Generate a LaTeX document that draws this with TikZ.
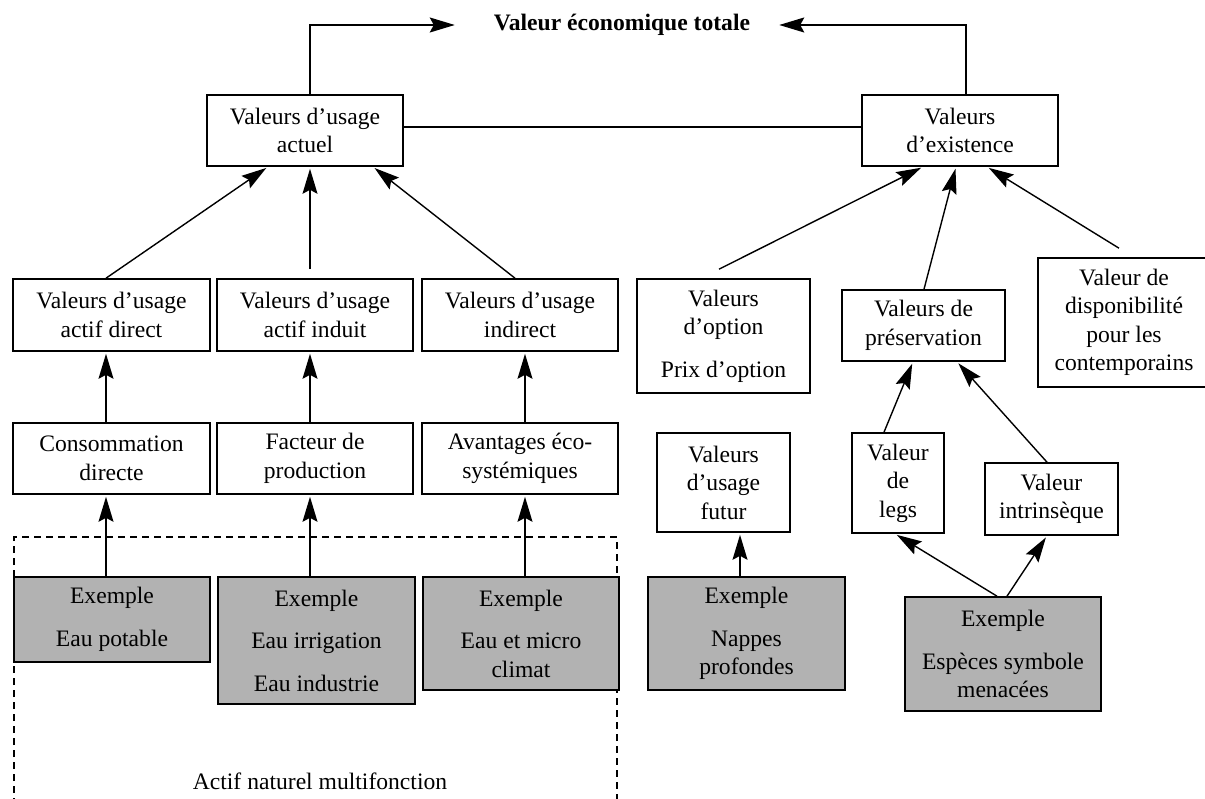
\documentclass[tikz,border=0pt]{standalone}
\usepackage{fontspec}
\setmainfont{Liberation Serif}
\usetikzlibrary{arrows.meta}
\definecolor{exgray}{RGB}{178,178,178}
\begin{document}
\begin{tikzpicture}[x=1pt,y=-1pt,
  txt/.style={font=\fontsize{23.6}{28.5}\selectfont, align=center, inner sep=0pt},
  box/.style={txt, draw, line width=1.6pt, fill=white},
  exbox/.style={box, fill=exgray},
  arr/.style={line width=1.4pt, -{Stealth[length=25pt,width=15pt,inset=4pt]}, shorten >=2pt},
  ln/.style={line width=1.4pt}]
\useasboundingbox (0,0) rectangle (1205,799);

% title
\node[txt, font=\fontsize{23.6}{28.5}\selectfont\bfseries] (title) at (622,25) {Valeur économique totale};

% top level
\node[box, minimum width=196pt, minimum height=71pt] (A) at (305,130.5) {Valeurs d’usage\\actuel};
\node[box, minimum width=196pt, minimum height=71pt] (E) at (960,130.5) {Valeurs\\d’existence};

% row 2
\node[box, minimum width=197pt, minimum height=72pt] (B1) at (111.5,315) {Valeurs d’usage\\actif direct};
\node[box, minimum width=196pt, minimum height=72pt] (B2) at (315,315) {Valeurs d’usage\\actif induit};
\node[box, minimum width=196pt, minimum height=72pt] (B3) at (520,315) {Valeurs d’usage\\indirect};

% row 3
\node[box, minimum width=197pt, minimum height=71pt] (C1) at (111.5,458.5) {Consommation\\directe};
\node[box, minimum width=196pt, minimum height=71pt] (C2) at (315,458.5) {Facteur de\\production};
\node[box, minimum width=196pt, minimum height=71pt] (C3) at (520,458.5) {Avantages éco-\\systémiques};

% dashed frame
\draw[line width=1.5pt, dash pattern=on 7pt off 5pt] (14,805) -- (14,537) -- (617,537) -- (617,805);
\node[txt] (actif) at (320,781) {Actif naturel multifonction};

% examples left
\node[exbox, minimum width=196pt, minimum height=85pt] (G1) at (112,619.5) {Exemple\\[14pt]Eau potable};
\node[exbox, minimum width=197pt, minimum height=127pt] (G2) at (316.5,640.5) {Exemple\\[14pt]Eau irrigation\\[14pt]Eau industrie};
\node[exbox, minimum width=196pt, minimum height=113pt] (G3) at (521,633.5) {Exemple\\[14pt]Eau et micro\\climat};

% right side
\node[box, minimum width=173pt, minimum height=114pt] (O) at (723.5,336) {Valeurs\\d’option\\[14pt]Prix d’option};
\node[box, minimum width=163pt, minimum height=71pt] (P) at (923.5,325.5) {Valeurs de\\préservation};
\node[box, minimum width=172pt, minimum height=129pt] (D) at (1124,322.5) {Valeur de\\disponibilité\\pour les\\contemporains};
\node[box, minimum width=133pt, minimum height=99pt] (F) at (723.5,482.5) {Valeurs\\d’usage\\futur};
\node[box, minimum width=92pt, minimum height=100pt] (L) at (898,483) {Valeur\\de\\legs};
\node[box, minimum width=133pt, minimum height=72pt] (I) at (1051.5,499) {Valeur\\intrinsèque};
\node[exbox, minimum width=197pt, minimum height=113pt] (N) at (746.5,633.5) {Exemple\\[14pt]Nappes\\profondes};
\node[exbox, minimum width=196pt, minimum height=114pt] (S) at (1003,654) {Exemple\\[14pt]Espèces symbole\\menacées};

% connectors to title
\draw[arr, shorten >=0pt] ([xshift=5pt]A.north) |- ([xshift=-39pt]title.west);
\draw[arr, shorten >=0pt] ([xshift=6pt]E.north) |- ([xshift=29pt]title.east);
\draw[ln] ([yshift=3.5pt]A.east) -- ([yshift=3.5pt]E.west);

% left tree
\draw[arr] ([xshift=-5.5pt]B1.north) -- ([xshift=-37pt]A.south);
\draw[arr] ([xshift=-5pt,yshift=9pt]B2.north) -- ([xshift=5pt]A.south);
\draw[arr] ([xshift=-5pt]B3.north) -- ([xshift=68pt]A.south);
\draw[arr] ([xshift=-5.5pt]C1.north) -- ([xshift=-5.5pt]B1.south);
\draw[arr] ([xshift=-5pt]C2.north) -- ([xshift=-5pt]B2.south);
\draw[arr] ([xshift=5pt]C3.north) -- ([xshift=5pt]B3.south);
\draw[arr] ([xshift=-6pt]G1.north) -- ([xshift=-5.5pt]C1.south);
\draw[arr] ([xshift=-6.5pt]G2.north) -- ([xshift=-5pt]C2.south);
\draw[arr] ([xshift=4pt]G3.north) -- ([xshift=5pt]C3.south);

% right tree
\draw[arr] ([xshift=-4.5pt,yshift=9pt]O.north) -- ([xshift=-37pt]E.south);
\draw[arr] ([xshift=0.5pt]P.north) -- ([xshift=-4pt]E.south);
\draw[arr] ([xshift=-5pt,yshift=9pt]D.north) -- ([xshift=27pt]E.south);
\draw[arr] ([xshift=-14pt]L.north) -- ([xshift=-10.5pt]P.south);
\draw[arr] ([xshift=-4.5pt]I.north) -- ([xshift=33.5pt]P.south);
\draw[arr] ([xshift=-6.5pt]N.north) -- ([xshift=16.5pt]F.south);
\draw[arr] ([xshift=-6pt]S.north) -- ([xshift=-3pt]L.south);
\draw[arr] ([xshift=4pt]S.north) -- ([xshift=-4.5pt]I.south);
\end{tikzpicture}
\end{document}
